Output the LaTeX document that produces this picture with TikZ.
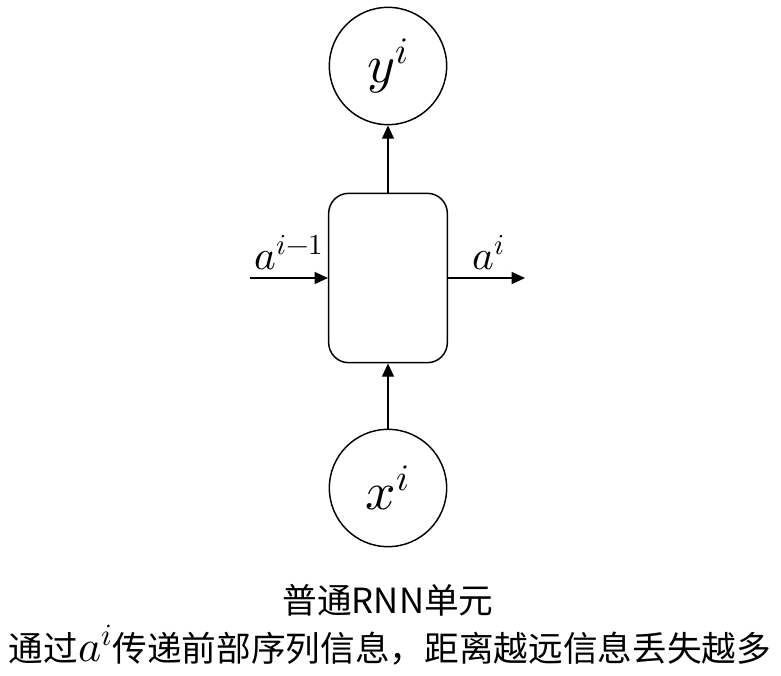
\documentclass[tikz,border=0pt]{standalone}
\usepackage{fontspec}
\usepackage{unicode-math}
\setmathfont{Latin Modern Math}
\newfontfamily\cjk{Noto Sans CJK SC}
\usetikzlibrary{arrows.meta,positioning}
\tikzset{
  unit/.style={circle, draw, line width=1.1pt, minimum size=88pt, inner sep=0pt},
  cellbox/.style={rectangle, draw, line width=1.1pt, rounded corners=15pt, minimum width=89pt, minimum height=127pt},
  flow/.style={line width=1.1pt, -{Triangle[length=10pt,width=9pt]}},
}
\begin{document}
\begin{tikzpicture}[x=0.75pt,y=-0.75pt]
      \useasboundingbox (0,0) rectangle (781,675);
      \node[unit] (yout) at (388,66) {\fontsize{40}{44}\selectfont $y^i$};
      \node[cellbox] (cell) at (388,278) {};
      \node[unit] (xin) at (388,488) {\fontsize{40}{44}\selectfont $x^i$};
      \coordinate (ain) at (250,278);
      \coordinate (aout) at (525,278);
      \draw[flow] (ain) -- (cell.west);
      \draw[flow] (cell.east) -- (aout);
      \draw[flow] (cell.north) -- (yout.south);
      \draw[flow] (xin.north) -- (cell.south);
      \node (aprev) at (289,253) {\fontsize{31}{36}\selectfont $a^{i-1}$};
      \node (anext) at (489,253) {\fontsize{31}{36}\selectfont $a^{i}$};
      \node[font=\cjk\fontsize{26}{30}\selectfont] (title) at (388,600) {普通RNN单元};
      \node[font=\cjk\fontsize{26}{30}\selectfont] (note) at (390,645) {通过{\fontsize{33}{30}\selectfont$a^i$}传递前部序列信息，距离越远信息丢失越多};
    \end{tikzpicture}
\end{document}
